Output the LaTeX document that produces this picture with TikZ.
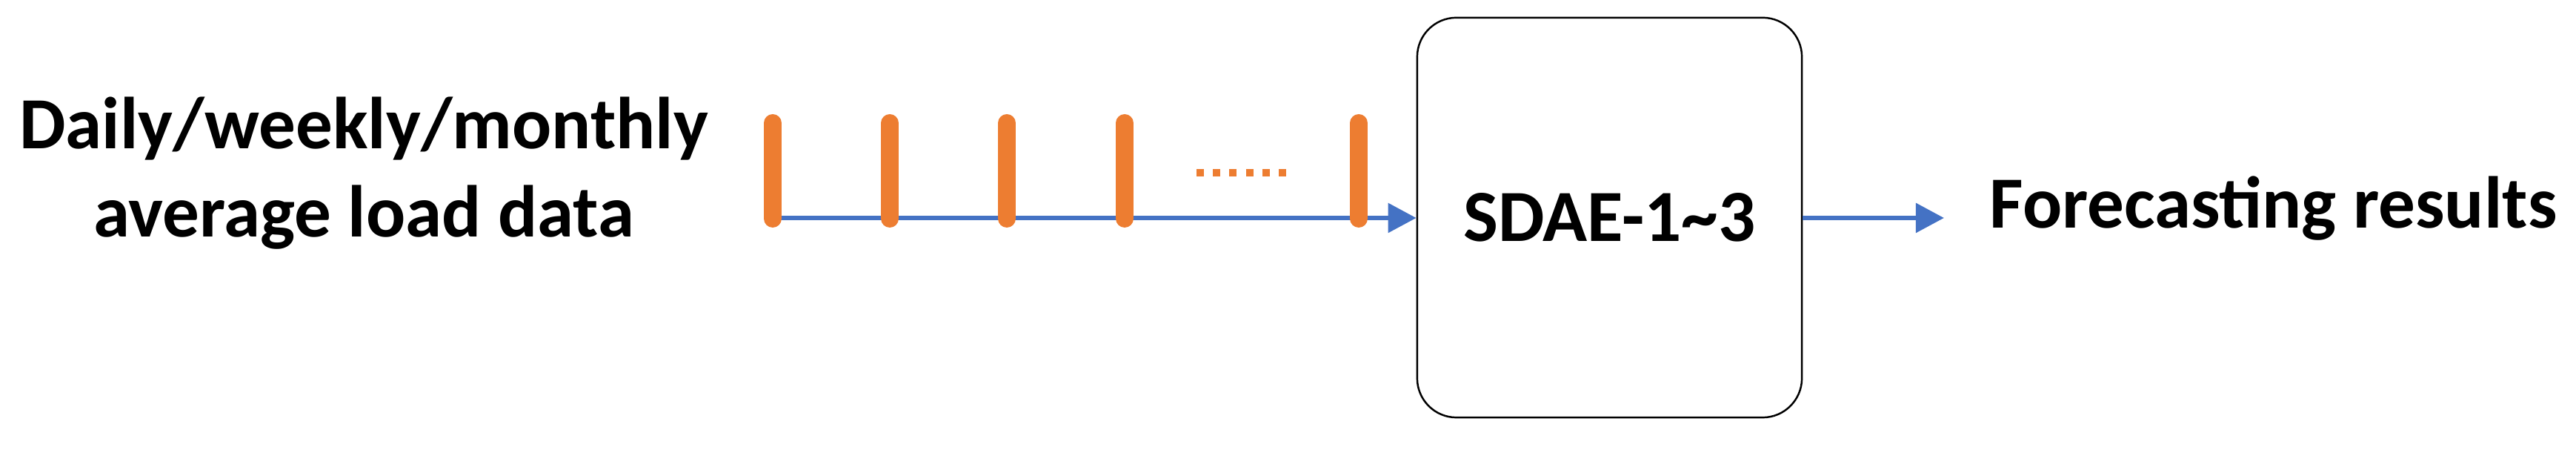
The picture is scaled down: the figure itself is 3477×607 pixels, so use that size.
\documentclass[tikz,border=0pt]{standalone}
\usepackage{fontspec}
\setmainfont{Carlito}
\usetikzlibrary{arrows.meta}
\definecolor{offorange}{HTML}{ED7D31}
\definecolor{offblue}{HTML}{4472C4}
\tikzset{
  lbl/.style={font=\fontsize{28.2}{34.1}\selectfont\bfseries, inner sep=0pt, text=black},
  blk/.style={draw=black, line width=0.7pt, rounded corners=0.53cm, minimum width=5.19cm, minimum height=5.39cm, inner sep=0pt, font=\fontsize{28.2}{34.1}\selectfont\bfseries},
  flow/.style={draw=offblue, line width=1.7pt, -{Triangle[length=0.38cm, width=0.39cm]}},
  tick/.style={draw=offorange, line width=0.24cm, line cap=round},
  dots/.style={draw=offorange, line width=0.1cm, dash pattern=on 0.1cm off 0.122cm}
}
\begin{document}
\begin{tikzpicture}[x=0.01cm, y=0.01cm]
\useasboundingbox (0,0) rectangle (3477,607);
% input text (base anchor = baseline of the last line)
\node[lbl, anchor=base, align=center] (inp) at (491,287) {Daily/weekly/monthly\\average load data};
% model box
\node[blk] (sdae) at (2172.5,313.5) {SDAE-1\textasciitilde3};
% output text
\node[lbl, anchor=base west] (res) at (2685,299) {Forecasting results};
% time axis
\coordinate (t0) at (1043,313);
\draw[flow] (t0) -- (sdae.west |- t0);
% ticks
\foreach \i/\x in {1/1043, 2/1201, 3/1359, 4/1518, 5/1834} {
  \coordinate (tb\i) at (\x,312);
  \coordinate (tt\i) at (\x,441);
  \draw[tick] (tb\i) -- (tt\i);
}
% ellipsis
\coordinate (d0) at (1615,374);
\coordinate (d1) at (1737,374);
\draw[dots] (d0) -- (d1);
% output arrow
\coordinate (outtip) at (2624,313);
\draw[flow] (sdae.east |- outtip) -- (outtip);
\end{tikzpicture}
\end{document}
